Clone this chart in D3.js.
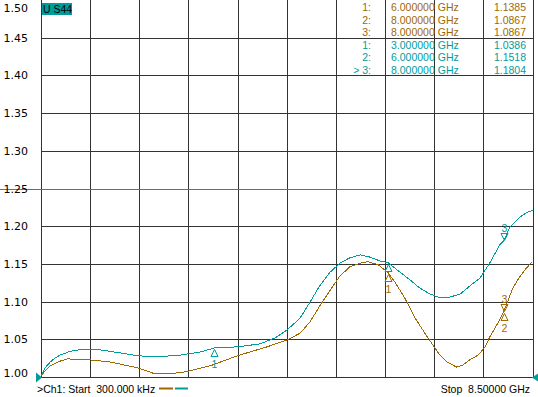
<!DOCTYPE html>
<html lang="en">
<head>
<meta charset="utf-8">
<title>S44 VSWR</title>
<script src="https://cdnjs.cloudflare.com/ajax/libs/d3/7.8.5/d3.min.js"></script>
<style>
body { margin: 0; background: #fff; }
svg { display: block; font-family: "Liberation Sans", Arial, sans-serif; font-size: 10.5px; }
svg text { white-space: pre; }
.ylab { font-family: "DejaVu Sans", sans-serif; font-size: 11px; }
.grid { stroke: #333; stroke-width: 1; shape-rendering: crispEdges; }
.trace { fill: none; stroke-width: 1; shape-rendering: crispEdges; }
</style>
</head>
<body>
<script>
const w = 538;
const h = 397;

const brown = "#a06800";
const teal = "#009c9c";

// frequency (GHz), VSWR
const brownFreq = [0.0003, 0.07, 0.16, 0.33, 0.45, 0.80, 1.19, 1.68, 1.94, 2.18, 2.52, 2.97, 3.39, 3.91, 4.25, 4.48, 4.65, 4.82, 5.00, 5.17, 5.34, 5.52, 5.65, 5.83, 6.00, 6.12, 6.29, 6.47, 6.64, 6.78, 6.90, 7.02, 7.19, 7.30, 7.42, 7.56, 7.68, 7.76, 7.89, 8.00, 8.06, 8.16, 8.28, 8.40, 8.50];
const brownVswr = [1.001, 1.008, 1.015, 1.021, 1.024, 1.023, 1.020, 1.012, 1.005, 1.004, 1.007, 1.016, 1.028, 1.040, 1.049, 1.058, 1.073, 1.094, 1.115, 1.134, 1.146, 1.151, 1.153, 1.149, 1.1385, 1.126, 1.105, 1.078, 1.058, 1.042, 1.029, 1.020, 1.013, 1.016, 1.023, 1.029, 1.040, 1.053, 1.070, 1.0867, 1.098, 1.118, 1.133, 1.145, 1.153];

const tealFreq = [0.0003, 0.07, 0.16, 0.24, 0.33, 0.50, 0.73, 1.02, 1.37, 1.69, 2.06, 2.40, 2.75, 3.00, 3.41, 3.79, 4.05, 4.25, 4.48, 4.65, 4.82, 5.00, 5.17, 5.34, 5.52, 5.69, 5.86, 6.00, 6.21, 6.38, 6.55, 6.73, 6.90, 7.07, 7.25, 7.42, 7.59, 7.76, 7.94, 8.00, 8.11, 8.28, 8.40, 8.50];
const tealVswr = [1.001, 1.012, 1.020, 1.025, 1.029, 1.034, 1.037, 1.036, 1.032, 1.028, 1.027, 1.029, 1.033, 1.0386, 1.040, 1.044, 1.052, 1.062, 1.078, 1.099, 1.121, 1.139, 1.151, 1.158, 1.162, 1.159, 1.154, 1.1518, 1.139, 1.129, 1.118, 1.110, 1.105, 1.106, 1.110, 1.121, 1.131, 1.151, 1.176, 1.1804, 1.199, 1.212, 1.218, 1.221];

const yTicks = [1.00, 1.05, 1.10, 1.15, 1.20, 1.25, 1.30, 1.35, 1.40, 1.45, 1.50];
const limitLine = 1.25;

// markers: number, frequency (GHz), value, placement
const brownMarkers = [
  {n: 1, f: 6, v: 1.1385, up: false},
  {n: 2, f: 8, v: 1.0867, up: false},
  {n: 3, f: 8, v: 1.0867, up: true}
];
const tealMarkers = [
  {n: 1, f: 3, v: 1.0386, up: false},
  {n: 2, f: 6, v: 1.1518, up: false, hideLabel: true},
  {n: 3, f: 8, v: 1.1804, up: true}
];
const activeMarker = 3;

const xScale = d3.scaleLinear().domain([0.0003, 8.5]).range([41, 532.5]);
const yScale = d3.scaleLinear().domain([1.0, 1.5]).range([377, 0]);

const svg = d3.select("body").append("svg")
  .attr("width", w)
  .attr("height", h);

// vertical grid
const xGrid = d3.range(11).map(i => 0.0003 + i * (8.5 - 0.0003) / 10);
svg.selectAll(".vgrid")
  .data(xGrid)
  .enter()
  .append("line")
  .attr("class", "grid")
  .attr("x1", d => Math.round(xScale(d)) + 0.5)
  .attr("x2", d => Math.round(xScale(d)) + 0.5)
  .attr("y1", 0)
  .attr("y2", yScale(1.0) + 0.5);

// horizontal grid (top one sits off screen)
svg.selectAll(".hgrid")
  .data(yTicks.filter(d => d < 1.5 && d !== limitLine))
  .enter()
  .append("line")
  .attr("class", "grid")
  .attr("x1", xScale(0.0003))
  .attr("x2", xScale(8.5) + 0.5)
  .attr("y1", d => Math.round(yScale(d)) + 0.5)
  .attr("y2", d => Math.round(yScale(d)) + 0.5);

// limit line
svg.append("line")
  .attr("class", "grid")
  .attr("x1", 0)
  .attr("x2", xScale(8.5) + 0.5)
  .attr("y1", Math.round(yScale(limitLine)) + 0.5)
  .attr("y2", Math.round(yScale(limitLine)) + 0.5)
  .style("stroke", teal);

// y labels, clamped inside the window
svg.selectAll(".ylab")
  .data(yTicks)
  .enter()
  .append("text")
  .attr("class", "ylab")
  .attr("x", 28)
  .attr("y", d => Math.min(Math.max(yScale(d), 8), 373) + 4)
  .attr("text-anchor", "end")
  .attr("fill", "#000")
  .text(d => d3.format(".2f")(d));

// traces
function makeLine(fs) {
  return d3.line()
    .x((d, i) => xScale(fs[i]))
    .y(d => yScale(d));
}

svg.append("path")
  .datum(brownVswr)
  .attr("class", "trace")
  .attr("stroke", brown)
  .attr("d", makeLine(brownFreq));

svg.append("path")
  .datum(tealVswr)
  .attr("class", "trace")
  .attr("stroke", teal)
  .attr("d", makeLine(tealFreq));

// marker symbols
function drawMarkers(markers, color) {
  const g = svg.append("g");
  markers.forEach(m => {
    const x = Math.round(xScale(m.f)) + 0.5;
    const y = Math.round(yScale(m.v)) + 0.5;
    let d, ly;
    if (m.up) {
      d = `M${x},${y - 1}L${x - 3.5},${y - 8}L${x + 3.5},${y - 8}Z`;
      ly = y - 10;
    } else {
      d = `M${x},${y + 1}L${x - 3.5},${y + 8}L${x + 3.5},${y + 8}Z`;
      ly = y + 19;
    }
    g.append("path")
      .attr("d", d)
      .attr("fill", "none")
      .attr("stroke", color);
    if (!m.hideLabel) {
      g.append("text")
        .attr("x", x)
        .attr("y", ly)
        .attr("text-anchor", "middle")
        .attr("fill", color)
        .text(m.n);
    }
  });
}
drawMarkers(tealMarkers, teal);
drawMarkers(brownMarkers, brown);

// marker table
const rowH = 12.6;
const table = brownMarkers.map(m => ({m: m, color: brown}))
  .concat(tealMarkers.map(m => ({m: m, color: teal})));
table.forEach((r, i) => {
  const y = 11 + i * rowH;
  const isActive = r.color === teal && r.m.n === activeMarker;
  svg.append("text")
    .attr("x", 371).attr("y", y)
    .attr("text-anchor", "end")
    .attr("fill", r.color)
    .text((isActive ? "> " : "") + r.m.n + ":");
  svg.append("text")
    .attr("x", 391).attr("y", y)
    .attr("fill", r.color)
    .text(d3.format(".6f")(r.m.f) + " GHz");
  svg.append("text")
    .attr("x", 526).attr("y", y)
    .attr("text-anchor", "end")
    .attr("fill", r.color)
    .text(d3.format(".4f")(r.m.v));
});

// trace label box
svg.append("rect")
  .attr("x", 42).attr("y", 3)
  .attr("width", 30).attr("height", 12)
  .attr("fill", teal);
svg.append("text")
  .attr("x", 43).attr("y", 13)
  .attr("fill", "#000")
  .text("U S44");

// reference position arrows
const y0 = Math.round(yScale(1.0)) + 0.5;
svg.append("path")
  .attr("d", `M${36},${y0 - 5}L${42},${y0}L${36},${y0 + 5}Z`)
  .attr("fill", teal);
svg.append("path")
  .attr("d", `M${538},${y0 - 4}L${532},${y0}L${538},${y0 + 4}Z`)
  .attr("fill", teal);

// footer
svg.append("text")
  .attr("x", 37).attr("y", 393)
  .attr("fill", "#000")
  .text(">Ch1: Start  300.000 kHz");
svg.append("line")
  .attr("x1", 159).attr("x2", 173)
  .attr("y1", 388.5).attr("y2", 388.5)
  .attr("stroke", brown).attr("stroke-width", 2);
svg.append("line")
  .attr("x1", 175).attr("x2", 188)
  .attr("y1", 388.5).attr("y2", 388.5)
  .attr("stroke", teal).attr("stroke-width", 2);
svg.append("text")
  .attr("x", 530).attr("y", 393)
  .attr("text-anchor", "end")
  .attr("fill", "#000")
  .text("Stop  8.50000 GHz");
</script>
</body>
</html>
